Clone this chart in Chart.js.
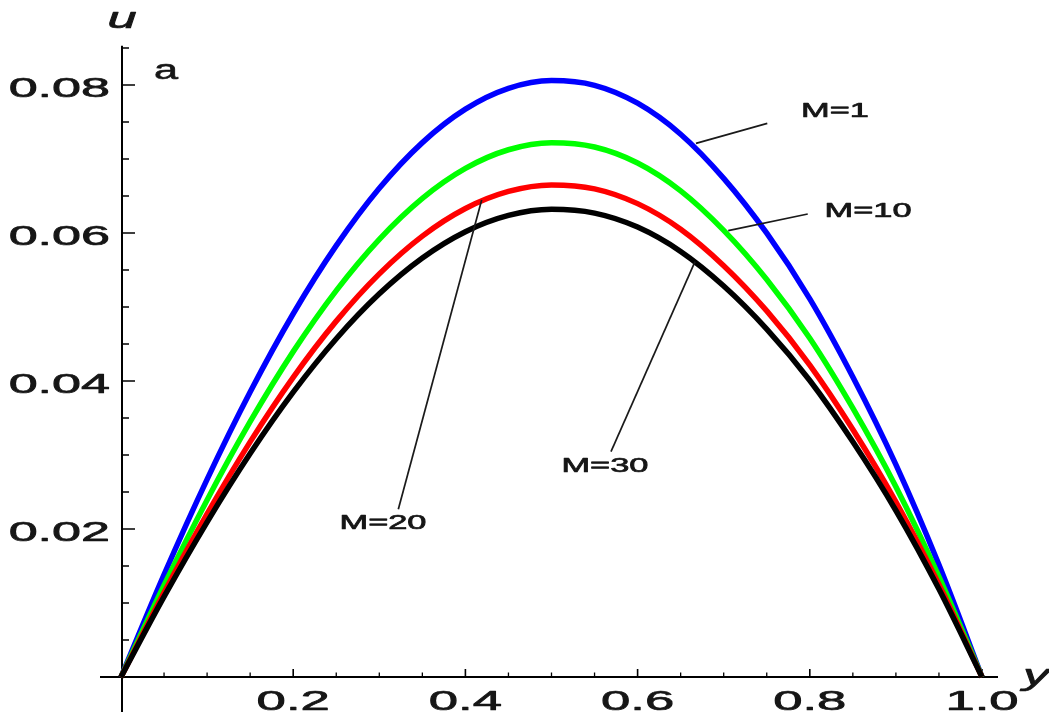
<!DOCTYPE html>
<html>
<head>
<meta charset="utf-8">
<title>Velocity profiles u(y) for several M</title>
<script src="https://cdn.jsdelivr.net/npm/chart.js@4/dist/chart.umd.min.js"></script>
<style>
  html, body { margin: 0; padding: 0; background: #ffffff; }
  #wrap { width: 1049px; height: 720px; }
</style>
</head>
<body>
<div id="wrap"><canvas id="c" width="1049" height="720"></canvas></div>
<script>
// Channel coordinate y (abscissa)
const yPositions = [0, 0.05, 0.1, 0.15, 0.2, 0.25, 0.3, 0.35, 0.4, 0.45, 0.5,
                    0.55, 0.6, 0.65, 0.7, 0.75, 0.8, 0.85, 0.9, 0.95, 1.0];

// Velocity u for each Hartmann number
const uM1  = [0, 0.01383, 0.02671, 0.03851, 0.04909, 0.05829, 0.06604, 0.07221, 0.07673, 0.07954, 0.0806,
              0.07996, 0.07754, 0.07335, 0.06738, 0.05997, 0.05110, 0.04054, 0.02869, 0.01515, 0];
const uM10 = [0, 0.01239, 0.02393, 0.03450, 0.04397, 0.05222, 0.05915, 0.06468, 0.06873, 0.07125, 0.0722,
              0.07162, 0.06946, 0.06570, 0.06036, 0.05372, 0.04577, 0.03632, 0.02570, 0.01357, 0];
const uM20 = [0, 0.01141, 0.02204, 0.03177, 0.04050, 0.04809, 0.05448, 0.05958, 0.06331, 0.06562, 0.0665,
              0.06597, 0.06397, 0.06052, 0.05559, 0.04948, 0.04216, 0.03345, 0.02367, 0.01250, 0];
const uM30 = [0, 0.01085, 0.02094, 0.03020, 0.03849, 0.04571, 0.05178, 0.05662, 0.06017, 0.06237, 0.0632,
              0.06269, 0.06080, 0.05751, 0.05284, 0.04702, 0.04007, 0.03179, 0.02250, 0.01188, 0];

const seriesNames = ['M=1', 'M=10', 'M=20', 'M=30'];

// Axis ticks
const xMajorTicks = [0.2, 0.4, 0.6, 0.8, 1.0];
const xTickLabels = ['0.2', '0.4', '0.6', '0.8', '1.0'];
const xMinorTicks = [0.05, 0.1, 0.15, 0.25, 0.3, 0.35, 0.45, 0.5, 0.55, 0.65, 0.7, 0.75, 0.85, 0.9, 0.95];
const yMajorTicks = [0.02, 0.04, 0.06, 0.08];
const yTickLabels = ['0.02', '0.04', '0.06', '0.08'];
const yMinorTicks = [0.005, 0.01, 0.015, 0.025, 0.03, 0.035, 0.045, 0.05, 0.055, 0.065, 0.07, 0.075, 0.085];

// Curve labels: text anchor (x, u) and leader line from curve to label
const labelAnchorX = [0.8293, 0.8676, 0.3043, 0.5621];
const labelAnchorU = [0.07568, 0.06216, 0.0200, 0.02770];
const leaderCurveX = [0.6678, 0.7053, 0.4189, 0.6667];
const leaderCurveU = [0.07212, 0.06031, 0.06446, 0.05612];
const leaderEndX   = [0.7506, 0.7976, 0.3221, 0.5691];
const leaderEndU   = [0.07482, 0.06257, 0.02266, 0.03045];

const seriesValues = [uM1, uM10, uM20, uM30];
const seriesColors = ['#0000ff', '#00ff00', '#ff0000', '#000000'];

function toPoints(vals) {
  return yPositions.map((x, i) => ({ x: x, y: vals[i] }));
}

// Draws text stretched horizontally (wide, heavy lettering)
function wideText(ctx, text, x, y, sx, align, weight) {
  ctx.save();
  ctx.translate(x, y);
  ctx.scale(sx, 1);
  ctx.textAlign = align;
  ctx.textBaseline = 'alphabetic';
  ctx.fillText(text, 0, 0);
  if (weight) {
    ctx.lineWidth = weight;
    ctx.lineJoin = 'round';
    ctx.strokeText(text, 0, 0);
  }
  ctx.restore();
}

const axesPlugin = {
  id: 'frameAxes',
  beforeDatasetsDraw(chart) {
    const ctx = chart.ctx;
    const xs = chart.scales.x, ys = chart.scales.y;
    const x0 = xs.getPixelForValue(0) + 1;
    const y0 = ys.getPixelForValue(0);
    ctx.save();
    ctx.strokeStyle = '#000';
    ctx.lineWidth = 2;
    ctx.beginPath();
    ctx.moveTo(x0, ys.getPixelForValue(0.0853));
    ctx.lineTo(x0, y0 + 35);
    ctx.moveTo(x0 - 22, y0);
    ctx.lineTo(xs.getPixelForValue(1.0) + 16, y0);
    ctx.stroke();

    // y ticks point into the plot
    ctx.lineWidth = 1.6;
    ctx.beginPath();
    yMajorTicks.forEach(v => {
      const p = ys.getPixelForValue(v);
      ctx.moveTo(x0, p); ctx.lineTo(x0 + 13, p);
    });
    ctx.stroke();
    ctx.lineWidth = 1.3;
    ctx.beginPath();
    yMinorTicks.forEach(v => {
      const p = ys.getPixelForValue(v);
      ctx.moveTo(x0, p); ctx.lineTo(x0 + 7, p);
    });
    ctx.stroke();

    // x ticks point upward
    ctx.lineWidth = 1.6;
    ctx.beginPath();
    xMajorTicks.forEach(v => {
      const p = xs.getPixelForValue(v);
      ctx.moveTo(p, y0); ctx.lineTo(p, y0 - 8);
    });
    ctx.stroke();
    ctx.lineWidth = 1.3;
    ctx.beginPath();
    xMinorTicks.forEach(v => {
      const p = xs.getPixelForValue(v);
      ctx.moveTo(p, y0); ctx.lineTo(p, y0 - 4.5);
    });
    ctx.stroke();

    // tick labels
    ctx.fillStyle = '#161616';
    ctx.strokeStyle = '#161616';
    ctx.font = '28px "Liberation Sans", Arial, sans-serif';
    yMajorTicks.forEach((v, i) => {
      wideText(ctx, yTickLabels[i], x0 - 12, ys.getPixelForValue(v) + 11.5, 1.86, 'right', 0.7);
    });
    xMajorTicks.forEach((v, i) => {
      wideText(ctx, xTickLabels[i], xs.getPixelForValue(v), y0 + 33, 1.88, 'center', 0.7);
    });

    // axis names and panel tag
    ctx.font = 'italic 30px "Liberation Sans", Arial, sans-serif';
    wideText(ctx, 'u', x0, 28, 1.75, 'center', 0.7);
    wideText(ctx, 'y', xs.getPixelForValue(1.0) + 54, y0 + 8, 1.75, 'center', 0.7);
    ctx.font = '27px "Liberation Sans", Arial, sans-serif';
    wideText(ctx, 'a', xs.getPixelForValue(0.0523), ys.getPixelForValue(0.0808), 1.6, 'center', 0.6);
    ctx.restore();
  },
  afterDatasetsDraw(chart) {
    const ctx = chart.ctx;
    const xs = chart.scales.x, ys = chart.scales.y;
    ctx.save();
    ctx.strokeStyle = '#1a1a1a';
    ctx.lineWidth = 1.7;
    seriesNames.forEach((name, i) => {
      ctx.beginPath();
      ctx.moveTo(xs.getPixelForValue(leaderCurveX[i]), ys.getPixelForValue(leaderCurveU[i]));
      ctx.lineTo(xs.getPixelForValue(leaderEndX[i]), ys.getPixelForValue(leaderEndU[i]));
      ctx.stroke();
    });
    ctx.fillStyle = '#161616';
    ctx.strokeStyle = '#161616';
    ctx.font = '20px "Liberation Sans", Arial, sans-serif';
    seriesNames.forEach((name, i) => {
      wideText(ctx, name, xs.getPixelForValue(labelAnchorX[i]), ys.getPixelForValue(labelAnchorU[i]), 1.72, 'center', 0.7);
    });
    ctx.restore();
  }
};

new Chart(document.getElementById('c'), {
  type: 'line',
  data: {
    datasets: seriesValues.map((vals, i) => ({
      label: seriesNames[i],
      data: toPoints(vals),
      borderColor: seriesColors[i],
      backgroundColor: seriesColors[i],
      borderWidth: 5.5,
      pointRadius: 0,
      fill: false,
      cubicInterpolationMode: 'monotone',
      clip: false,
      order: seriesValues.length - i
    }))
  },
  options: {
    responsive: false,
    animation: false,
    devicePixelRatio: 1,
    layout: { padding: { left: 121, right: 67, top: 48, bottom: 43 } },
    plugins: { legend: { display: false }, tooltip: { enabled: false } },
    scales: {
      x: { type: 'linear', min: 0, max: 1, display: false },
      y: { type: 'linear', min: 0, max: 0.085, display: false }
    }
  },
  plugins: [axesPlugin]
});
</script>
</body>
</html>
